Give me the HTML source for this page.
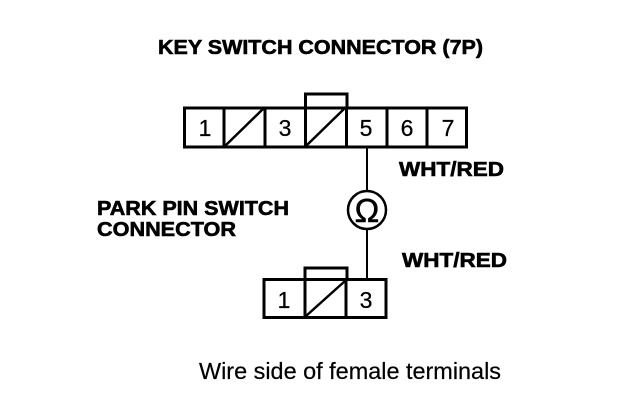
<!DOCTYPE html>
<html><head><meta charset="utf-8"><style>
html,body{margin:0;padding:0;background:#fff}
svg{display:block}
text{font-family:"Liberation Sans",sans-serif;fill:#000}
.b{font-weight:bold;font-size:20px;stroke:#000;stroke-width:.6px}
.n{font-size:23px;text-anchor:middle;stroke:#000;stroke-width:.25px}
</style></head><body>
<svg width="624" height="418" viewBox="0 0 624 418" xmlns="http://www.w3.org/2000/svg">
<g fill="none" stroke="#000">
<rect x="184.500" y="108" width="282" height="39" stroke-width="3"/>
<path d="M224 107V148M265 107V148M305.500 107V148M346.500 107V148M387 107V148M427 107V148" stroke-width="3"/>
<path d="M225 146L264 108M306 146L345 108" stroke-width="2.500"/>
<path d="M305.500 108V94H347V108" stroke-width="3"/>
<path d="M367 148V191M367 230V279" stroke-width="2"/>
<circle cx="367" cy="210" r="19" stroke-width="2.500"/>
<rect x="264" y="279.500" width="122" height="38" stroke-width="3"/>
<path d="M305 279V318M346 279V318" stroke-width="3"/>
<path d="M306 316L345 281" stroke-width="2.500"/>
<path d="M305 279V268H347V279" stroke-width="3"/>
</g>
<text class="b" x="158" y="54" textLength="325" lengthAdjust="spacingAndGlyphs">KEY SWITCH CONNECTOR (7P)</text>
<text class="n" x="205" y="136">1</text>
<text class="n" x="285" y="136">3</text>
<text class="n" x="366" y="136">5</text>
<text class="n" x="407" y="136">6</text>
<text class="n" x="448" y="136">7</text>
<text class="b" x="399" y="176" textLength="105" lengthAdjust="spacingAndGlyphs">WHT/RED</text>
<text class="b" x="97" y="215" textLength="192" lengthAdjust="spacingAndGlyphs">PARK PIN SWITCH</text>
<text class="b" x="97" y="236" textLength="139" lengthAdjust="spacingAndGlyphs">CONNECTOR</text>
<text x="367" y="222" font-size="33" text-anchor="middle" stroke="#000" stroke-width=".5">Ω</text>
<text class="b" x="402" y="267" textLength="105" lengthAdjust="spacingAndGlyphs">WHT/RED</text>
<text class="n" x="284" y="308">1</text>
<text class="n" x="366" y="308">3</text>
<text x="199" y="379" font-size="23" stroke="#000" stroke-width=".2" textLength="302" lengthAdjust="spacingAndGlyphs">Wire side of female terminals</text>
</svg>
</body></html>
